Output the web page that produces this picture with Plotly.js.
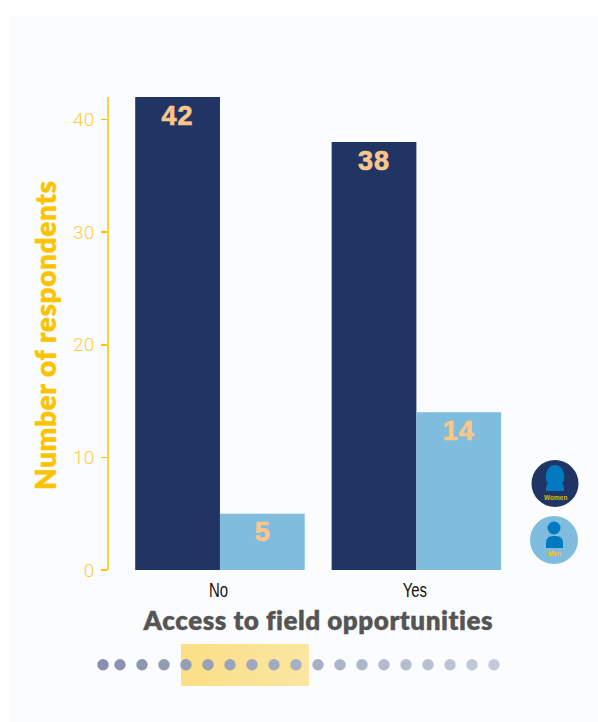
<!DOCTYPE html>
<html><head><meta charset="utf-8">
<script src="https://cdn.plot.ly/plotly-3.0.1.min.js"></script>
<style>html,body{margin:0;padding:0;background:#fff}#c{width:598px;height:722px}</style></head>
<body><div id="c"></div>
<script>
const categories = ['No', 'Yes'];
const women = [42, 38];
const men = [5, 14];
const yTicks = [0, 10, 20, 30, 40];
const xTitle = 'Access to field opportunities';
const yTitle = 'Number of respondents';
const W = 598, H = 722;
const px = x => x / W, py = y => 1 - y / H;
const NAVY = '#203564', SKY = '#80bcdd', GOLD = '#fdc300', PEACH = '#f9c68b', ICON = '#0079c1';

function rect(x0, y0, x1, y1, fill, layer) {
  return {type:'rect', xref:'paper', yref:'paper', x0:px(x0), x1:px(x1), y0:py(y0), y1:py(y1),
    fillcolor:fill, line:{width:0}, layer:layer || 'above'};
}
function circ(cx, cy, r, fill) {
  return {type:'circle', xref:'paper', yref:'paper', x0:px(cx-r), x1:px(cx+r), y0:py(cy+r), y1:py(cy-r),
    fillcolor:fill, line:{width:0}, layer:'above'};
}
function roundBody(x0, x1, y0, y1, fill) {
  const r = (x1 - x0) * 0.42;
  const X = px, Y = py;
  return {type:'path', xref:'paper', yref:'paper', layer:'above', fillcolor:fill, line:{width:0},
    path:`M ${X(x0)} ${Y(y1)} L ${X(x0)} ${Y(y0+r)} Q ${X(x0)} ${Y(y0)} ${X(x0+r)} ${Y(y0)} L ${X(x1-r)} ${Y(y0)} Q ${X(x1)} ${Y(y0)} ${X(x1)} ${Y(y0+r)} L ${X(x1)} ${Y(y1)} Z`};
}

const shapes = [rect(9, 16, 598, 722, '#fbfcfe', 'below')];
// progress strip
for (let i = 0; i < 16; i++) {
  const t = i / 15;
  const c = [251 - t*1, 223 + t*7, 135 + t*25];
  shapes.push(rect(181 + i*8, 644, 181 + (i+1)*8 + (i < 15 ? 0.5 : 0), 686, `rgb(${c.map(Math.round).join(',')})`));
}
const dotX = [103,120,142,164,186,208,230,252,274,296,318,340,362,384,406,428,450,472,494];
dotX.forEach((x, i) => {
  const t = i / (dotX.length - 1);
  const c = [135 + t*60, 145 + t*57, 171 + t*45];
  shapes.push(circ(x, 664.7, 5.7, `rgb(${c.map(Math.round).join(',')})`));
});
// legend icons
shapes.push(circ(555, 483.5, 23.5, NAVY));
shapes.push(circ(555, 473.5, 8.5, ICON), circ(555, 477, 9.5, ICON));
shapes.push(roundBody(546, 564, 481, 491, ICON));
shapes.push(circ(554, 540, 24, SKY));
shapes.push(circ(554, 528, 6.5, ICON));
shapes.push(roundBody(546, 563, 536, 548, ICON));
// y axis line, drawn in gold along the axis
shapes.push({type:'line', xref:'x domain', yref:'y domain', x0:0, x1:0, y0:0, y1:1, line:{color:GOLD, width:1.5}, layer:'above'});

const base = {type:'bar', x:categories, textposition:'inside', insidetextanchor:'end', textangle:0,
  constraintext:'none', cliponaxis:false, hoverinfo:'skip',
  textfont:{family:'"Liberation Sans", Arial, sans-serif', size:27, color:PEACH, weight:700}};

const data = [
  Object.assign({}, base, {name:'Women', y:women, text:women.map(String), marker:{color:NAVY}}),
  Object.assign({}, base, {name:'Men', y:men, text:men.map(String), marker:{color:SKY}})
];

const layout = {
  width:W, height:H, margin:{l:0, r:0, t:0, b:0, pad:0}, autosize:false,
  paper_bgcolor:'#ffffff', plot_bgcolor:'rgba(0,0,0,0)', showlegend:false,
  barmode:'group', bargap:0.137, bargroupgap:0,
  xaxis:{domain:[px(108), px(514.6)], range:[-0.57, 1.5], type:'category', showline:false, showgrid:false, zeroline:false,
    ticks:'', ticklabelstandoff:5, tickfont:{family:'"Liberation Sans", sans-serif', size:21, color:'#111111'},
    automargin:false, anchor:'y'},
  yaxis:{domain:[py(570), py(97)], range:[0, 42], tickvals:yTicks, showgrid:false, zeroline:false, showline:false,
    ticks:'outside', ticklen:6, tickcolor:GOLD, tickwidth:1.5, ticklabelstandoff:3,
    tickfont:{family:'Roboto, sans-serif', size:19, color:'#fdcb3c', weight:300}, automargin:false, anchor:'x'},
  shapes,
  annotations:[
    {xref:'paper', yref:'paper', x:px(318), y:py(620), text:xTitle, showarrow:false, xanchor:'center', yanchor:'middle',
      font:{family:'Lato, sans-serif', size:26, color:'#555555', weight:800}},
    {xref:'paper', yref:'paper', x:px(45), y:py(335), text:yTitle, showarrow:false, textangle:-90, xanchor:'center', yanchor:'middle',
      font:{family:'Lato, sans-serif', size:28, color:GOLD, weight:800}},
    {xref:'paper', yref:'paper', x:px(555), y:py(497), text:'Women', showarrow:false, xanchor:'center', yanchor:'middle',
      font:{family:'"Liberation Sans", sans-serif', size:6.5, color:'#e0b414', weight:700}},
    {xref:'paper', yref:'paper', x:px(554), y:py(553), text:'Men', showarrow:false, xanchor:'center', yanchor:'middle',
      font:{family:'"Liberation Sans", sans-serif', size:6.5, color:GOLD, weight:700}}
  ]
};
Plotly.newPlot('c', data, layout, {displayModeBar:false, staticPlot:true}).then(gd => {
  // condensed category labels
  gd.querySelectorAll('.xtick text').forEach(t => {
    const b = t.getBBox(), cx = b.x + b.width / 2;
    t.setAttribute('transform', (t.getAttribute('transform') || '') + ` translate(${cx - 1.5} 0) scale(0.71 1) translate(${-cx} 0)`);
  });
  // wider spacing and heavier strokes in the bar values
  gd.querySelectorAll('text.bartext').forEach(t => {
    const two = t.textContent.length > 1;
    t.style.letterSpacing = two ? '1px' : '0';
    t.style.stroke = PEACH; t.style.strokeWidth = '0.7px';
    t.setAttribute('transform', (t.getAttribute('transform') || '') + ' translate(0 0.5)');
  });
  // heavier, tracked titles
  const ann = gd.querySelectorAll('.annotation-text');
  ann[0].style.letterSpacing = '0.52px'; ann[0].style.stroke = '#555555'; ann[0].style.strokeWidth = '0.3px';
  ann[1].style.letterSpacing = '0.58px'; ann[1].style.stroke = GOLD; ann[1].style.strokeWidth = '0.3px';
});
</script></body></html>
